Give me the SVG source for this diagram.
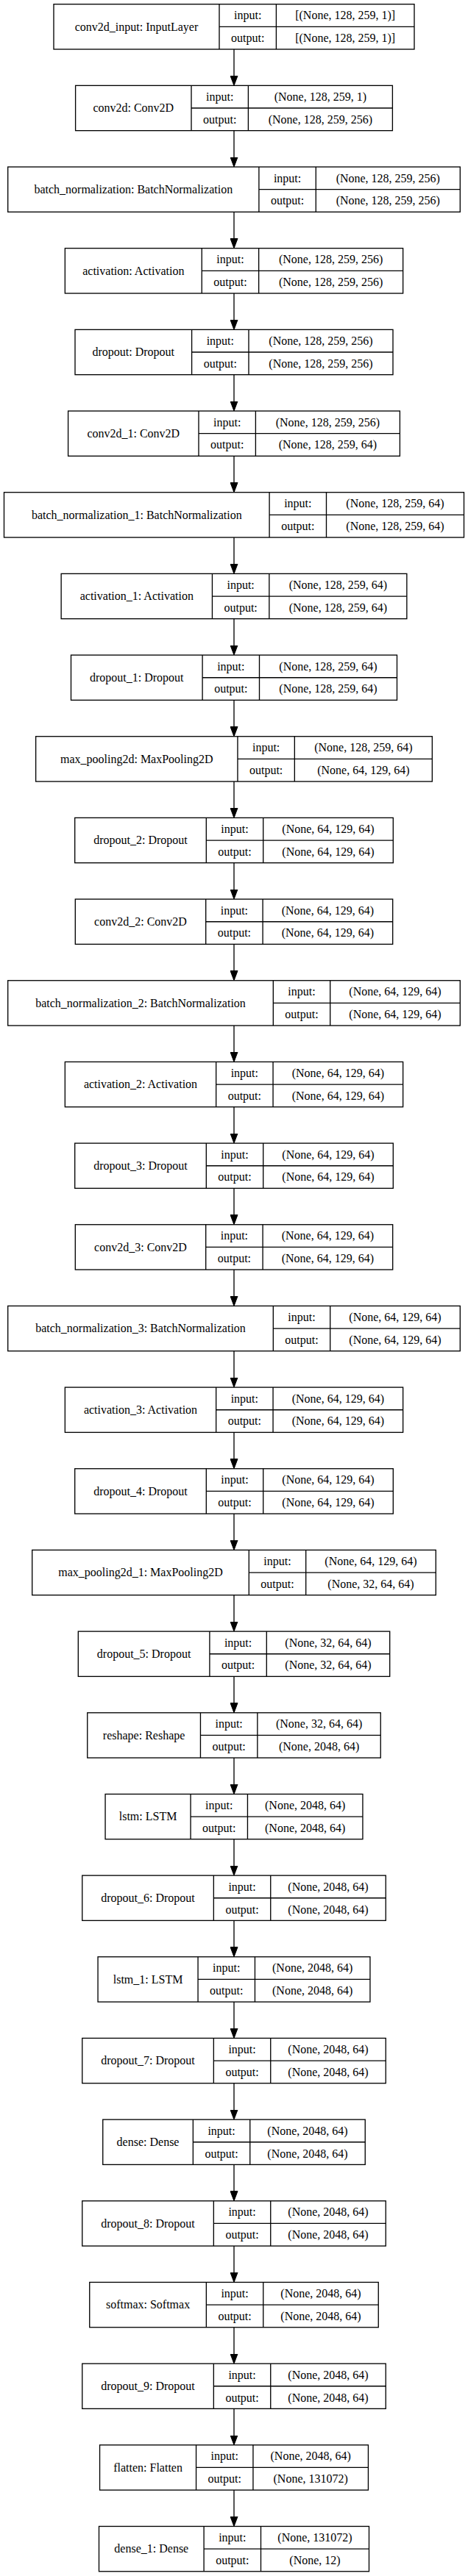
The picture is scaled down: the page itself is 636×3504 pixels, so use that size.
<svg xmlns="http://www.w3.org/2000/svg" width="636" height="3504" viewBox="0 0 636 3504">
<style>
.n rect{fill:#fff;stroke:#000;stroke-width:1.33}
.n path{fill:none;stroke:#000;stroke-width:1.33}
.n text{font-family:"Liberation Serif","Times New Roman",serif;font-size:16px;fill:#000;text-anchor:middle}
.e path{fill:none;stroke:#000;stroke-width:1.33}
</style>
<defs>
<marker id="ah" markerUnits="userSpaceOnUse" markerWidth="14" markerHeight="11" viewBox="0 0 14 11" refX="11.3" refY="5.5" orient="auto">
<path d="M0,0.5L13.3,5.5L0,10.5z" fill="#000" stroke="#000" stroke-width="1"/>
</marker>
</defs>
<rect width="636" height="3504" fill="#fff"/>
<g id="connectors" class="e">
<path marker-end="url(#ah)" d="M318,67V114.37"/>
<path marker-end="url(#ah)" d="M318,177.67V225.04"/>
<path marker-end="url(#ah)" d="M318,288.34V335.71"/>
<path marker-end="url(#ah)" d="M318,399.01V446.38"/>
<path marker-end="url(#ah)" d="M318,509.68V557.05"/>
<path marker-end="url(#ah)" d="M318,620.35V667.72"/>
<path marker-end="url(#ah)" d="M318,731.02V778.39"/>
<path marker-end="url(#ah)" d="M318,841.69V889.06"/>
<path marker-end="url(#ah)" d="M318,952.36V999.73"/>
<path marker-end="url(#ah)" d="M318,1063.03V1110.4"/>
<path marker-end="url(#ah)" d="M318,1173.7V1221.07"/>
<path marker-end="url(#ah)" d="M318,1284.37V1331.74"/>
<path marker-end="url(#ah)" d="M318,1395.04V1442.41"/>
<path marker-end="url(#ah)" d="M318,1505.71V1553.08"/>
<path marker-end="url(#ah)" d="M318,1616.38V1663.75"/>
<path marker-end="url(#ah)" d="M318,1727.05V1774.42"/>
<path marker-end="url(#ah)" d="M318,1837.72V1885.09"/>
<path marker-end="url(#ah)" d="M318,1948.39V1995.76"/>
<path marker-end="url(#ah)" d="M318,2059.06V2106.43"/>
<path marker-end="url(#ah)" d="M318,2169.73V2217.1"/>
<path marker-end="url(#ah)" d="M318,2280.4V2327.77"/>
<path marker-end="url(#ah)" d="M318,2391.07V2438.44"/>
<path marker-end="url(#ah)" d="M318,2501.74V2549.11"/>
<path marker-end="url(#ah)" d="M318,2612.41V2659.78"/>
<path marker-end="url(#ah)" d="M318,2723.08V2770.45"/>
<path marker-end="url(#ah)" d="M318,2833.75V2881.12"/>
<path marker-end="url(#ah)" d="M318,2944.42V2991.79"/>
<path marker-end="url(#ah)" d="M318,3055.09V3102.46"/>
<path marker-end="url(#ah)" d="M318,3165.76V3213.13"/>
<path marker-end="url(#ah)" d="M318,3276.43V3323.8"/>
<path marker-end="url(#ah)" d="M318,3387.1V3434.47"/>
</g>

<g id="node0" class="n" transform="translate(73,5.7)"><rect width="490" height="61.3"/><path d="M225,0V61.3M302.4,0V61.3M225,30.65H490"/><text x="112.5" y="36">conv2d_input: InputLayer</text><text x="263.7" y="20.7">input:</text><text x="263.7" y="51.4">output:</text><text x="396.2" y="20.7">[(None, 128, 259, 1)]</text><text x="396.2" y="51.4">[(None, 128, 259, 1)]</text></g>

<g id="node1" class="n" transform="translate(102.6,116.37)"><rect width="430.8" height="61.3"/><path d="M157.4,0V61.3M234.8,0V61.3M157.4,30.65H430.8"/><text x="78.7" y="36">conv2d: Conv2D</text><text x="196.1" y="20.7">input:</text><text x="196.1" y="51.4">output:</text><text x="332.8" y="20.7">(None, 128, 259, 1)</text><text x="332.8" y="51.4">(None, 128, 259, 256)</text></g>

<g id="node2" class="n" transform="translate(10.7,227.04)"><rect width="614.6" height="61.3"/><path d="M341.2,0V61.3M418.6,0V61.3M341.2,30.65H614.6"/><text x="170.6" y="36">batch_normalization: BatchNormalization</text><text x="379.9" y="20.7">input:</text><text x="379.9" y="51.4">output:</text><text x="516.6" y="20.7">(None, 128, 259, 256)</text><text x="516.6" y="51.4">(None, 128, 259, 256)</text></g>

<g id="node3" class="n" transform="translate(88.35,337.71)"><rect width="459.3" height="61.3"/><path d="M185.9,0V61.3M263.3,0V61.3M185.9,30.65H459.3"/><text x="92.95" y="36">activation: Activation</text><text x="224.6" y="20.7">input:</text><text x="224.6" y="51.4">output:</text><text x="361.3" y="20.7">(None, 128, 259, 256)</text><text x="361.3" y="51.4">(None, 128, 259, 256)</text></g>

<g id="node4" class="n" transform="translate(102,448.38)"><rect width="432" height="61.3"/><path d="M158.6,0V61.3M236,0V61.3M158.6,30.65H432"/><text x="79.3" y="36">dropout: Dropout</text><text x="197.3" y="20.7">input:</text><text x="197.3" y="51.4">output:</text><text x="334" y="20.7">(None, 128, 259, 256)</text><text x="334" y="51.4">(None, 128, 259, 256)</text></g>

<g id="node5" class="n" transform="translate(92.6,559.05)"><rect width="450.8" height="61.3"/><path d="M177.4,0V61.3M254.8,0V61.3M177.4,30.65H450.8"/><text x="88.7" y="36">conv2d_1: Conv2D</text><text x="216.1" y="20.7">input:</text><text x="216.1" y="51.4">output:</text><text x="352.8" y="20.7">(None, 128, 259, 256)</text><text x="352.8" y="51.4">(None, 128, 259, 64)</text></g>

<g id="node6" class="n" transform="translate(5.5,669.72)"><rect width="625" height="61.3"/><path d="M360.6,0V61.3M438,0V61.3M360.6,30.65H625"/><text x="180.3" y="36">batch_normalization_1: BatchNormalization</text><text x="399.3" y="20.7">input:</text><text x="399.3" y="51.4">output:</text><text x="531.5" y="20.7">(None, 128, 259, 64)</text><text x="531.5" y="51.4">(None, 128, 259, 64)</text></g>

<g id="node7" class="n" transform="translate(83.15,780.39)"><rect width="469.7" height="61.3"/><path d="M205.3,0V61.3M282.7,0V61.3M205.3,30.65H469.7"/><text x="102.65" y="36">activation_1: Activation</text><text x="244" y="20.7">input:</text><text x="244" y="51.4">output:</text><text x="376.2" y="20.7">(None, 128, 259, 64)</text><text x="376.2" y="51.4">(None, 128, 259, 64)</text></g>

<g id="node8" class="n" transform="translate(96.5,891.06)"><rect width="443" height="61.3"/><path d="M178.6,0V61.3M256,0V61.3M178.6,30.65H443"/><text x="89.3" y="36">dropout_1: Dropout</text><text x="217.3" y="20.7">input:</text><text x="217.3" y="51.4">output:</text><text x="349.5" y="20.7">(None, 128, 259, 64)</text><text x="349.5" y="51.4">(None, 128, 259, 64)</text></g>

<g id="node9" class="n" transform="translate(48.65,1001.73)"><rect width="538.7" height="61.3"/><path d="M274.3,0V61.3M351.7,0V61.3M274.3,30.65H538.7"/><text x="137.15" y="36">max_pooling2d: MaxPooling2D</text><text x="313" y="20.7">input:</text><text x="313" y="51.4">output:</text><text x="445.2" y="20.7">(None, 128, 259, 64)</text><text x="445.2" y="51.4">(None, 64, 129, 64)</text></g>

<g id="node10" class="n" transform="translate(101.7,1112.4)"><rect width="432.6" height="61.3"/><path d="M178.6,0V61.3M256,0V61.3M178.6,30.65H432.6"/><text x="89.3" y="36">dropout_2: Dropout</text><text x="217.3" y="20.7">input:</text><text x="217.3" y="51.4">output:</text><text x="344.3" y="20.7">(None, 64, 129, 64)</text><text x="344.3" y="51.4">(None, 64, 129, 64)</text></g>

<g id="node11" class="n" transform="translate(102.3,1223.07)"><rect width="431.4" height="61.3"/><path d="M177.4,0V61.3M254.8,0V61.3M177.4,30.65H431.4"/><text x="88.7" y="36">conv2d_2: Conv2D</text><text x="216.1" y="20.7">input:</text><text x="216.1" y="51.4">output:</text><text x="343.1" y="20.7">(None, 64, 129, 64)</text><text x="343.1" y="51.4">(None, 64, 129, 64)</text></g>

<g id="node12" class="n" transform="translate(10.7,1333.74)"><rect width="614.6" height="61.3"/><path d="M360.6,0V61.3M438,0V61.3M360.6,30.65H614.6"/><text x="180.3" y="36">batch_normalization_2: BatchNormalization</text><text x="399.3" y="20.7">input:</text><text x="399.3" y="51.4">output:</text><text x="526.3" y="20.7">(None, 64, 129, 64)</text><text x="526.3" y="51.4">(None, 64, 129, 64)</text></g>

<g id="node13" class="n" transform="translate(88.35,1444.41)"><rect width="459.3" height="61.3"/><path d="M205.3,0V61.3M282.7,0V61.3M205.3,30.65H459.3"/><text x="102.65" y="36">activation_2: Activation</text><text x="244" y="20.7">input:</text><text x="244" y="51.4">output:</text><text x="371" y="20.7">(None, 64, 129, 64)</text><text x="371" y="51.4">(None, 64, 129, 64)</text></g>

<g id="node14" class="n" transform="translate(101.7,1555.08)"><rect width="432.6" height="61.3"/><path d="M178.6,0V61.3M256,0V61.3M178.6,30.65H432.6"/><text x="89.3" y="36">dropout_3: Dropout</text><text x="217.3" y="20.7">input:</text><text x="217.3" y="51.4">output:</text><text x="344.3" y="20.7">(None, 64, 129, 64)</text><text x="344.3" y="51.4">(None, 64, 129, 64)</text></g>

<g id="node15" class="n" transform="translate(102.3,1665.75)"><rect width="431.4" height="61.3"/><path d="M177.4,0V61.3M254.8,0V61.3M177.4,30.65H431.4"/><text x="88.7" y="36">conv2d_3: Conv2D</text><text x="216.1" y="20.7">input:</text><text x="216.1" y="51.4">output:</text><text x="343.1" y="20.7">(None, 64, 129, 64)</text><text x="343.1" y="51.4">(None, 64, 129, 64)</text></g>

<g id="node16" class="n" transform="translate(10.7,1776.42)"><rect width="614.6" height="61.3"/><path d="M360.6,0V61.3M438,0V61.3M360.6,30.65H614.6"/><text x="180.3" y="36">batch_normalization_3: BatchNormalization</text><text x="399.3" y="20.7">input:</text><text x="399.3" y="51.4">output:</text><text x="526.3" y="20.7">(None, 64, 129, 64)</text><text x="526.3" y="51.4">(None, 64, 129, 64)</text></g>

<g id="node17" class="n" transform="translate(88.35,1887.09)"><rect width="459.3" height="61.3"/><path d="M205.3,0V61.3M282.7,0V61.3M205.3,30.65H459.3"/><text x="102.65" y="36">activation_3: Activation</text><text x="244" y="20.7">input:</text><text x="244" y="51.4">output:</text><text x="371" y="20.7">(None, 64, 129, 64)</text><text x="371" y="51.4">(None, 64, 129, 64)</text></g>

<g id="node18" class="n" transform="translate(101.7,1997.76)"><rect width="432.6" height="61.3"/><path d="M178.6,0V61.3M256,0V61.3M178.6,30.65H432.6"/><text x="89.3" y="36">dropout_4: Dropout</text><text x="217.3" y="20.7">input:</text><text x="217.3" y="51.4">output:</text><text x="344.3" y="20.7">(None, 64, 129, 64)</text><text x="344.3" y="51.4">(None, 64, 129, 64)</text></g>

<g id="node19" class="n" transform="translate(43.7,2108.43)"><rect width="548.6" height="61.3"/><path d="M294.6,0V61.3M372,0V61.3M294.6,30.65H548.6"/><text x="147.3" y="36">max_pooling2d_1: MaxPooling2D</text><text x="333.3" y="20.7">input:</text><text x="333.3" y="51.4">output:</text><text x="460.3" y="20.7">(None, 64, 129, 64)</text><text x="460.3" y="51.4">(None, 32, 64, 64)</text></g>

<g id="node20" class="n" transform="translate(106.3,2219.1)"><rect width="423.4" height="61.3"/><path d="M178.6,0V61.3M256,0V61.3M178.6,30.65H423.4"/><text x="89.3" y="36">dropout_5: Dropout</text><text x="217.3" y="20.7">input:</text><text x="217.3" y="51.4">output:</text><text x="339.7" y="20.7">(None, 32, 64, 64)</text><text x="339.7" y="51.4">(None, 32, 64, 64)</text></g>

<g id="node21" class="n" transform="translate(118.75,2329.77)"><rect width="398.5" height="61.3"/><path d="M153.7,0V61.3M231.1,0V61.3M153.7,30.65H398.5"/><text x="76.85" y="36">reshape: Reshape</text><text x="192.4" y="20.7">input:</text><text x="192.4" y="51.4">output:</text><text x="314.8" y="20.7">(None, 32, 64, 64)</text><text x="314.8" y="51.4">(None, 2048, 64)</text></g>

<g id="node22" class="n" transform="translate(143.05,2440.44)"><rect width="349.9" height="61.3"/><path d="M116,0V61.3M193.4,0V61.3M116,30.65H349.9"/><text x="58" y="36">lstm: LSTM</text><text x="154.7" y="20.7">input:</text><text x="154.7" y="51.4">output:</text><text x="271.65" y="20.7">(None, 2048, 64)</text><text x="271.65" y="51.4">(None, 2048, 64)</text></g>

<g id="node23" class="n" transform="translate(111.75,2551.11)"><rect width="412.5" height="61.3"/><path d="M178.6,0V61.3M256,0V61.3M178.6,30.65H412.5"/><text x="89.3" y="36">dropout_6: Dropout</text><text x="217.3" y="20.7">input:</text><text x="217.3" y="51.4">output:</text><text x="334.25" y="20.7">(None, 2048, 64)</text><text x="334.25" y="51.4">(None, 2048, 64)</text></g>

<g id="node24" class="n" transform="translate(133.05,2661.78)"><rect width="369.9" height="61.3"/><path d="M136,0V61.3M213.4,0V61.3M136,30.65H369.9"/><text x="68" y="36">lstm_1: LSTM</text><text x="174.7" y="20.7">input:</text><text x="174.7" y="51.4">output:</text><text x="291.65" y="20.7">(None, 2048, 64)</text><text x="291.65" y="51.4">(None, 2048, 64)</text></g>

<g id="node25" class="n" transform="translate(111.75,2772.45)"><rect width="412.5" height="61.3"/><path d="M178.6,0V61.3M256,0V61.3M178.6,30.65H412.5"/><text x="89.3" y="36">dropout_7: Dropout</text><text x="217.3" y="20.7">input:</text><text x="217.3" y="51.4">output:</text><text x="334.25" y="20.7">(None, 2048, 64)</text><text x="334.25" y="51.4">(None, 2048, 64)</text></g>

<g id="node26" class="n" transform="translate(139.75,2883.12)"><rect width="356.5" height="61.3"/><path d="M122.6,0V61.3M200,0V61.3M122.6,30.65H356.5"/><text x="61.3" y="36">dense: Dense</text><text x="161.3" y="20.7">input:</text><text x="161.3" y="51.4">output:</text><text x="278.25" y="20.7">(None, 2048, 64)</text><text x="278.25" y="51.4">(None, 2048, 64)</text></g>

<g id="node27" class="n" transform="translate(111.75,2993.79)"><rect width="412.5" height="61.3"/><path d="M178.6,0V61.3M256,0V61.3M178.6,30.65H412.5"/><text x="89.3" y="36">dropout_8: Dropout</text><text x="217.3" y="20.7">input:</text><text x="217.3" y="51.4">output:</text><text x="334.25" y="20.7">(None, 2048, 64)</text><text x="334.25" y="51.4">(None, 2048, 64)</text></g>

<g id="node28" class="n" transform="translate(121.75,3104.46)"><rect width="392.5" height="61.3"/><path d="M158.6,0V61.3M236,0V61.3M158.6,30.65H392.5"/><text x="79.3" y="36">softmax: Softmax</text><text x="197.3" y="20.7">input:</text><text x="197.3" y="51.4">output:</text><text x="314.25" y="20.7">(None, 2048, 64)</text><text x="314.25" y="51.4">(None, 2048, 64)</text></g>

<g id="node29" class="n" transform="translate(111.75,3215.13)"><rect width="412.5" height="61.3"/><path d="M178.6,0V61.3M256,0V61.3M178.6,30.65H412.5"/><text x="89.3" y="36">dropout_9: Dropout</text><text x="217.3" y="20.7">input:</text><text x="217.3" y="51.4">output:</text><text x="334.25" y="20.7">(None, 2048, 64)</text><text x="334.25" y="51.4">(None, 2048, 64)</text></g>

<g id="node30" class="n" transform="translate(135.55,3325.8)"><rect width="364.9" height="61.3"/><path d="M131,0V61.3M208.4,0V61.3M131,30.65H364.9"/><text x="65.5" y="36">flatten: Flatten</text><text x="169.7" y="20.7">input:</text><text x="169.7" y="51.4">output:</text><text x="286.65" y="20.7">(None, 2048, 64)</text><text x="286.65" y="51.4">(None, 131072)</text></g>

<g id="node31" class="n" transform="translate(134.5,3436.47)"><rect width="367" height="61.3"/><path d="M142.6,0V61.3M220,0V61.3M142.6,30.65H367"/><text x="71.3" y="36">dense_1: Dense</text><text x="181.3" y="20.7">input:</text><text x="181.3" y="51.4">output:</text><text x="293.5" y="20.7">(None, 131072)</text><text x="293.5" y="51.4">(None, 12)</text></g>
</svg>
